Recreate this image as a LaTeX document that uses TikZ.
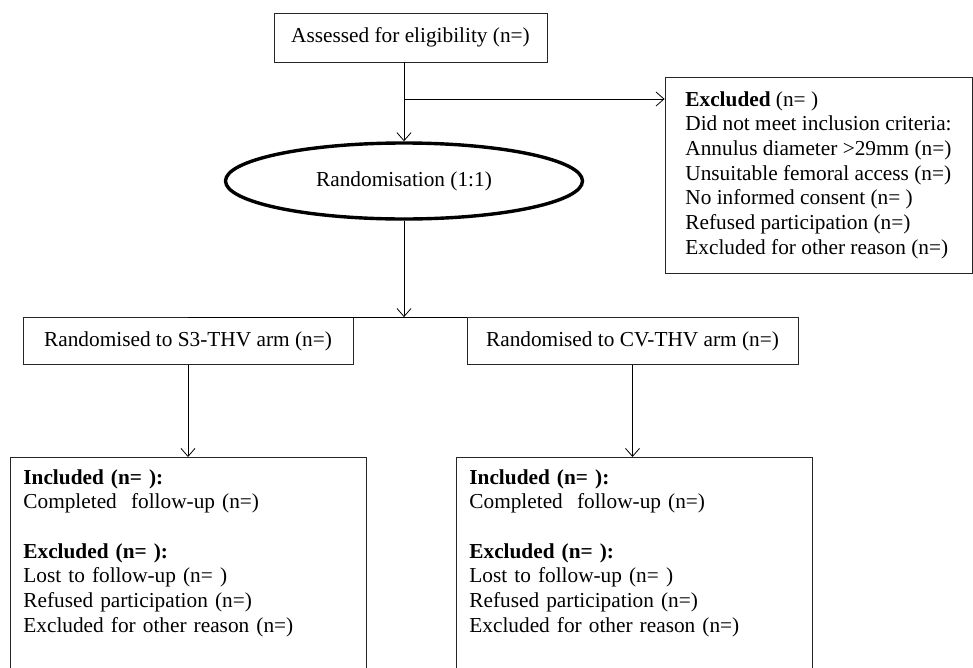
\documentclass[tikz,border=0pt]{standalone}
\usepackage{fontspec}
\setmainfont{Liberation Serif}
\usetikzlibrary{arrows.meta,shapes.geometric}
\tikzset{
	box/.style={draw=black!85, line width=0.8pt, font=\fontsize{21.3}{24.7}\selectfont},
	listbox/.style={box, anchor=north west, text width=330pt, inner xsep=13pt, inner ysep=12pt, align=left},
	arr/.style={line width=0.8pt, -{Straight Barb[length=8pt,width=14pt]}},
}

\begin{document}
\begin{tikzpicture}[x=1pt, y=-1pt]
		%%%%% START %%%%%
		\useasboundingbox (0, 0) rectangle (973, 667);
		\clip (0, 0) rectangle (973, 667);
		
		\node[box, minimum width=273pt, minimum height=49pt] (assess) at (410.5, 37.5) {Assessed for eligibility (n=)};
		\node[box, ellipse, draw=black, line width=3.4pt, minimum width=357pt, minimum height=76pt] (rand) at (404, 181) {Randomisation (1:1)};
		\node[box, minimum width=307pt, minimum height=196pt, align=left] (excl) at (818.5, 175) {\textbf{Excluded} (n= )\\ Did not meet inclusion criteria:\\ Annulus diameter >29mm (n=)\\ Unsuitable femoral access (n=)\\ No informed consent (n= )\\ Refused participation (n=)\\ Excluded for other reason (n=)};
		
		\node[box, minimum width=330pt, minimum height=47pt] (s3) at (188, 341) {Randomised to S3-THV arm (n=)};
		\node[box, minimum width=331pt, minimum height=47pt] (cv) at (632.5, 341) {Randomised to CV-THV arm (n=)};
		
		\node[listbox] (incl1) at (10, 457) {\textbf{Included (n= ):}\\ Completed\ \ follow-up (n=)\\ ~\\ \textbf{Excluded (n= ):}\\ Lost to follow-up (n= )\\ Refused participation (n=)\\ Excluded for other reason (n=)\\ ~\\ ~};
		\node[listbox] (incl2) at (456, 457) {\textbf{Included (n= ):}\\ Completed\ \ follow-up (n=)\\ ~\\ \textbf{Excluded (n= ):}\\ Lost to follow-up (n= )\\ Refused participation (n=)\\ Excluded for other reason (n=)\\ ~\\ ~};
		
		\coordinate (branch) at (404, 99);
		\coordinate (split) at (rand.south |- s3.north);
		
		\draw[arr] (assess.south -| rand.north) -- (rand.north);
		\draw[arr] (branch) -- (branch -| excl.west);
		\draw[arr] (rand.south) -- (split);
		\draw[line width=0.8pt] (s3.north) -- (cv.north west);
		
		\draw[arr] (s3.south) -- (s3.south |- incl1.north);
		\draw[arr] (cv.south) -- (cv.south |- incl2.north);
		
		%%%%% END %%%%%
\end{tikzpicture}
\end{document}
